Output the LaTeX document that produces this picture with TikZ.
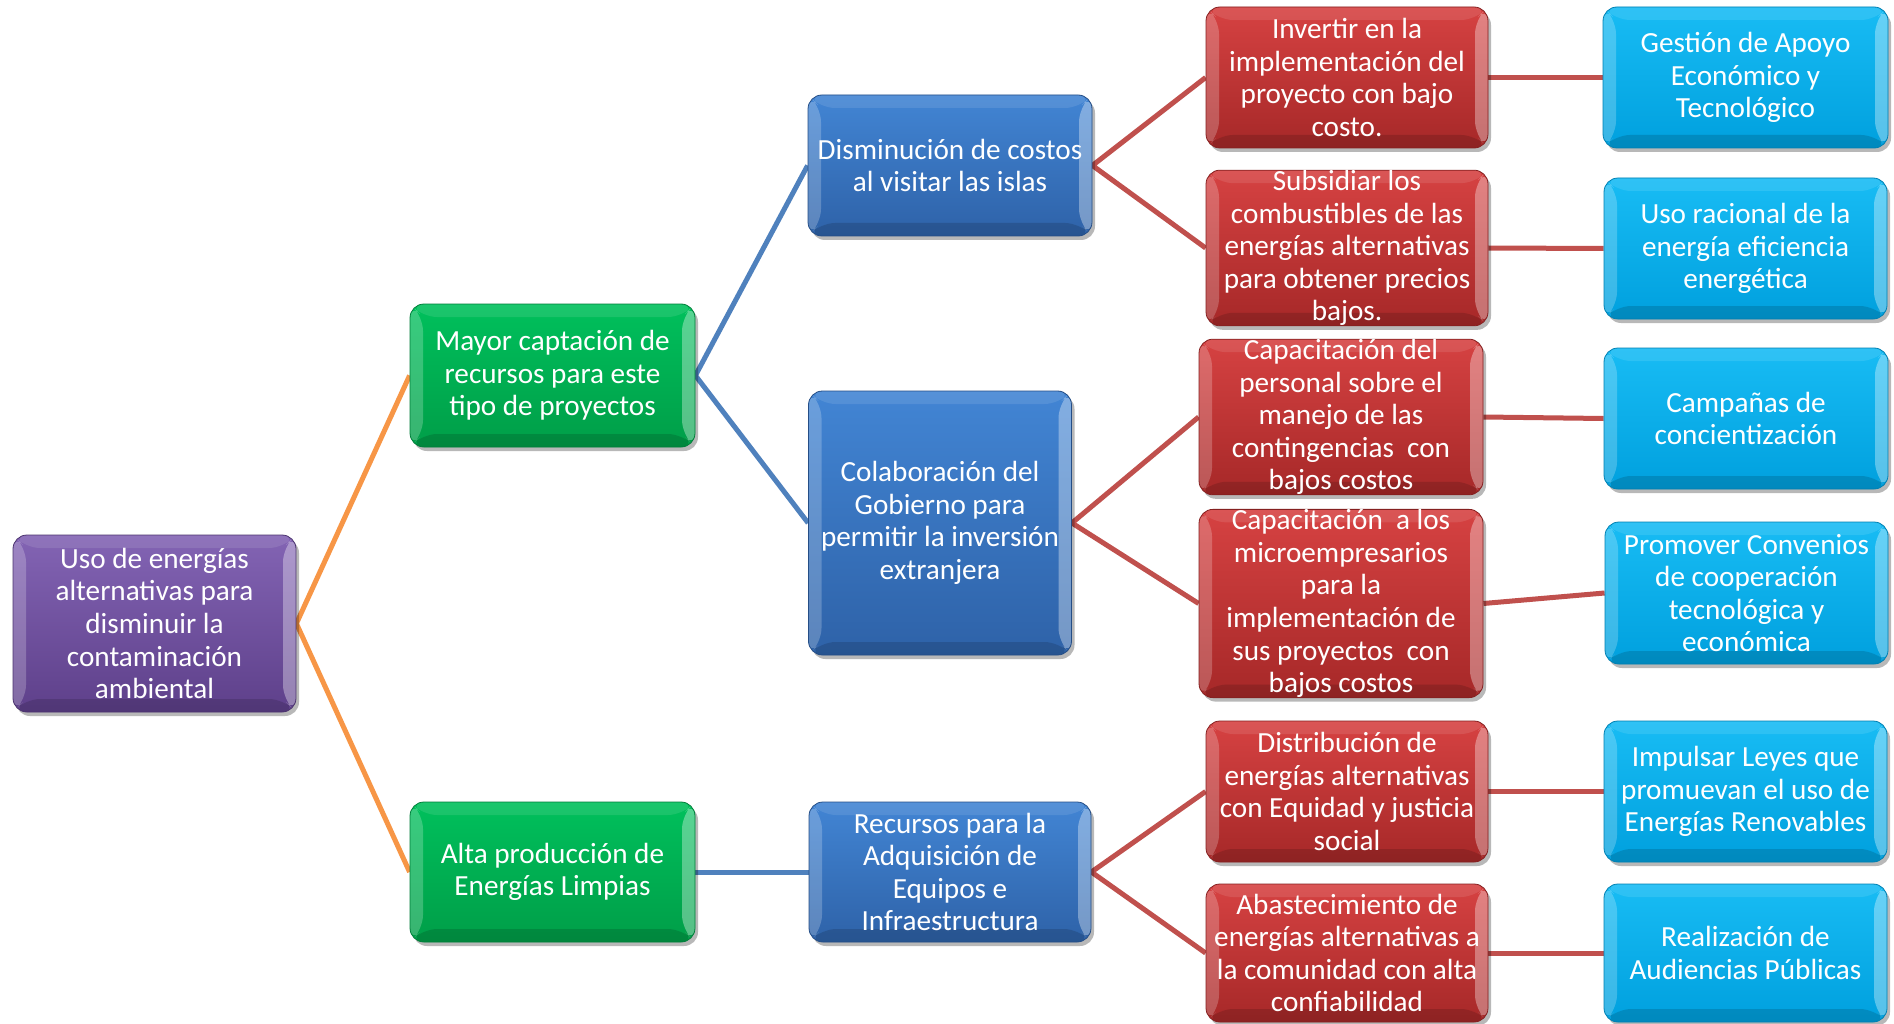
\documentclass[tikz,border=0pt]{standalone}
\usepackage{fontspec}
\setmainfont{Carlito}
\usetikzlibrary{shadows}

\definecolor{purpleTop}{RGB}{131,100,180}
\definecolor{purpleBot}{RGB}{94,64,138}
\definecolor{greenTop}{RGB}{0,192,92}
\definecolor{greenBot}{RGB}{0,158,72}
\definecolor{blueTop}{RGB}{66,133,212}
\definecolor{blueBot}{RGB}{46,98,168}
\definecolor{redTop}{RGB}{214,66,66}
\definecolor{redBot}{RGB}{166,40,40}
\definecolor{cyanTop}{RGB}{24,188,244}
\definecolor{cyanBot}{RGB}{0,160,222}
\definecolor{linkOrange}{RGB}{247,150,70}
\definecolor{linkBlue}{RGB}{79,129,189}
\definecolor{linkRed}{RGB}{192,80,77}

\pgfdeclarelayer{links}
\pgfsetlayers{links,main}

\tikzset{
  bevel/.style={path picture={
    \path (path picture bounding box.north west) coordinate (bvNW)
          (path picture bounding box.south west) coordinate (bvSW)
          (path picture bounding box.north east) coordinate (bvNE)
          (path picture bounding box.south east) coordinate (bvSE);
    \fill[white,opacity=0.22] (bvNW) -- (bvSW) -- ([xshift=13pt,yshift=13pt]bvSW)
         -- ([xshift=13pt,yshift=-13pt]bvNW) -- cycle;
    \fill[white,opacity=0.34] (bvNE) -- (bvSE) -- ([xshift=-13pt,yshift=13pt]bvSE)
         -- ([xshift=-13pt,yshift=-13pt]bvNE) -- cycle;
    \fill[white,opacity=0.10] (bvNW) -- (bvNE) -- ([xshift=-13pt,yshift=-13pt]bvNE)
         -- ([xshift=13pt,yshift=-13pt]bvNW) -- cycle;
    \fill[black,opacity=0.14] (bvSW) -- (bvSE) -- ([xshift=-13pt,yshift=13pt]bvSE)
         -- ([xshift=13pt,yshift=13pt]bvSW) -- cycle;
  }},
  card/.style={rounded corners=14pt, inner sep=0pt, align=center, text=white,
    font=\fontsize{29.2}{32.6}\selectfont,
    drop shadow={shadow xshift=3pt, shadow yshift=-4pt, opacity=0.28, fill=black},
    bevel},
  purplecard/.style={card, top color=purpleTop, bottom color=purpleBot, draw=purpleBot!80!black, line width=0.8pt},
  greencard/.style={card, top color=greenTop, bottom color=greenBot, draw=greenBot!80!black, line width=0.8pt},
  bluecard/.style={card, top color=blueTop, bottom color=blueBot, draw=blueBot!80!black, line width=0.8pt},
  redcard/.style={card, top color=redTop, bottom color=redBot, draw=redBot!80!black, line width=0.8pt},
  cyancard/.style={card, top color=cyanTop, bottom color=cyanBot, draw=cyanBot!80!black, line width=0.8pt},
  link/.style={line width=5pt},
}

\begin{document}
\begin{tikzpicture}[x=1pt,y=-1pt]
\useasboundingbox (0,0) rectangle (1894,1024);

% root
\node[purplecard, minimum width=283, minimum height=177] (root) at (154.5,623.5)
  {Uso de energías\\alternativas para\\disminuir la\\contaminación\\ambiental};

% second level
\node[greencard, minimum width=285, minimum height=143] (mayor) at (552.5,375.5)
  {Mayor captación de\\recursos para este\\tipo de proyectos};
\node[greencard, minimum width=285, minimum height=140] (alta) at (552.5,872)
  {Alta producción de\\Energías Limpias};

% third level
\node[bluecard, minimum width=284, minimum height=141] (dism) at (950,165.5)
  {Disminución de costos\\al visitar las islas};
\node[bluecard, minimum width=263, minimum height=264] (colab) at (940,523)
  {Colaboración del\\Gobierno para\\permitir la inversión\\extranjera};
\node[bluecard, minimum width=282, minimum height=140] (recur) at (950,872)
  {Recursos para la\\Adquisición de\\Equipos e\\Infraestructura};

% fourth level
\node[redcard, minimum width=282, minimum height=141] (inv) at (1347,77.5)
  {Invertir en la\\implementación del\\proyecto con bajo\\costo.};
\node[redcard, minimum width=282, minimum height=152] (subs) at (1347,248)
  {Subsidiar los\\combustibles de las\\energías alternativas\\para obtener precios\\bajos.};
\node[redcard, minimum width=284, minimum height=140] (capa) at (1341,417)
  {Capacitación del\\personal sobre el\\manejo de las\\contingencias\ \ con\\bajos costos};
\node[redcard, minimum width=284, minimum height=187] (capb) at (1341,603.5)
  {Capacitación\ \ a los\\microempresarios\\para la\\implementación de\\sus proyectos\ \ con\\bajos costos};
\node[redcard, minimum width=282, minimum height=141] (dist) at (1347,791.5)
  {Distribución de\\energías alternativas\\con Equidad y justicia\\social};
\node[redcard, minimum width=282, minimum height=138] (abas) at (1347,953)
  {Abastecimiento de\\energías alternativas a\\la comunidad con alta\\confiabilidad};

% fifth level
\node[cyancard, minimum width=285, minimum height=141] (gest) at (1745.5,77.5)
  {Gestión de Apoyo\\Económico y\\Tecnológico};
\node[cyancard, minimum width=283, minimum height=141] (usor) at (1745.5,248.5)
  {Uso racional de la\\energía eficiencia\\energética};
\node[cyancard, minimum width=284, minimum height=141] (camp) at (1746,418.5)
  {Campañas de\\concientización};
\node[cyancard, minimum width=283, minimum height=142] (prom) at (1746.5,593)
  {Promover Convenios\\de cooperación\\tecnológica y\\económica};
\node[cyancard, minimum width=283, minimum height=141] (impu) at (1745.5,791.5)
  {Impulsar Leyes que\\promuevan el uso de\\Energías Renovables};
\node[cyancard, minimum width=283, minimum height=138] (real) at (1745.5,953)
  {Realización de\\Audiencias Públicas};

% white page and connectors, beneath the cards
\begin{pgfonlayer}{links}
  \fill[white] (0,0) rectangle (1894,1024);
  \draw[link, linkOrange] (mayor.west) -- (root.east) -- (alta.west);
  \draw[link, linkBlue] (dism.west) -- (mayor.east) -- (colab.west);
  \draw[link, linkBlue] (alta.east) -- (recur.west);
  \draw[link, linkRed] (inv.west) -- (dism.east) -- (subs.west);
  \draw[link, linkRed] (capa.west) -- (colab.east) -- (capb.west);
  \draw[link, linkRed] (dist.west) -- (recur.east) -- (abas.west);
  \draw[link, linkRed] (inv.east) -- (gest.west);
  \draw[link, linkRed] (subs.east) -- (usor.west);
  \draw[link, linkRed] (capa.east) -- (camp.west);
  \draw[link, linkRed] (capb.east) -- (prom.west);
  \draw[link, linkRed] (dist.east) -- (impu.west);
  \draw[link, linkRed] (abas.east) -- (real.west);
\end{pgfonlayer}
\end{tikzpicture}
\end{document}
